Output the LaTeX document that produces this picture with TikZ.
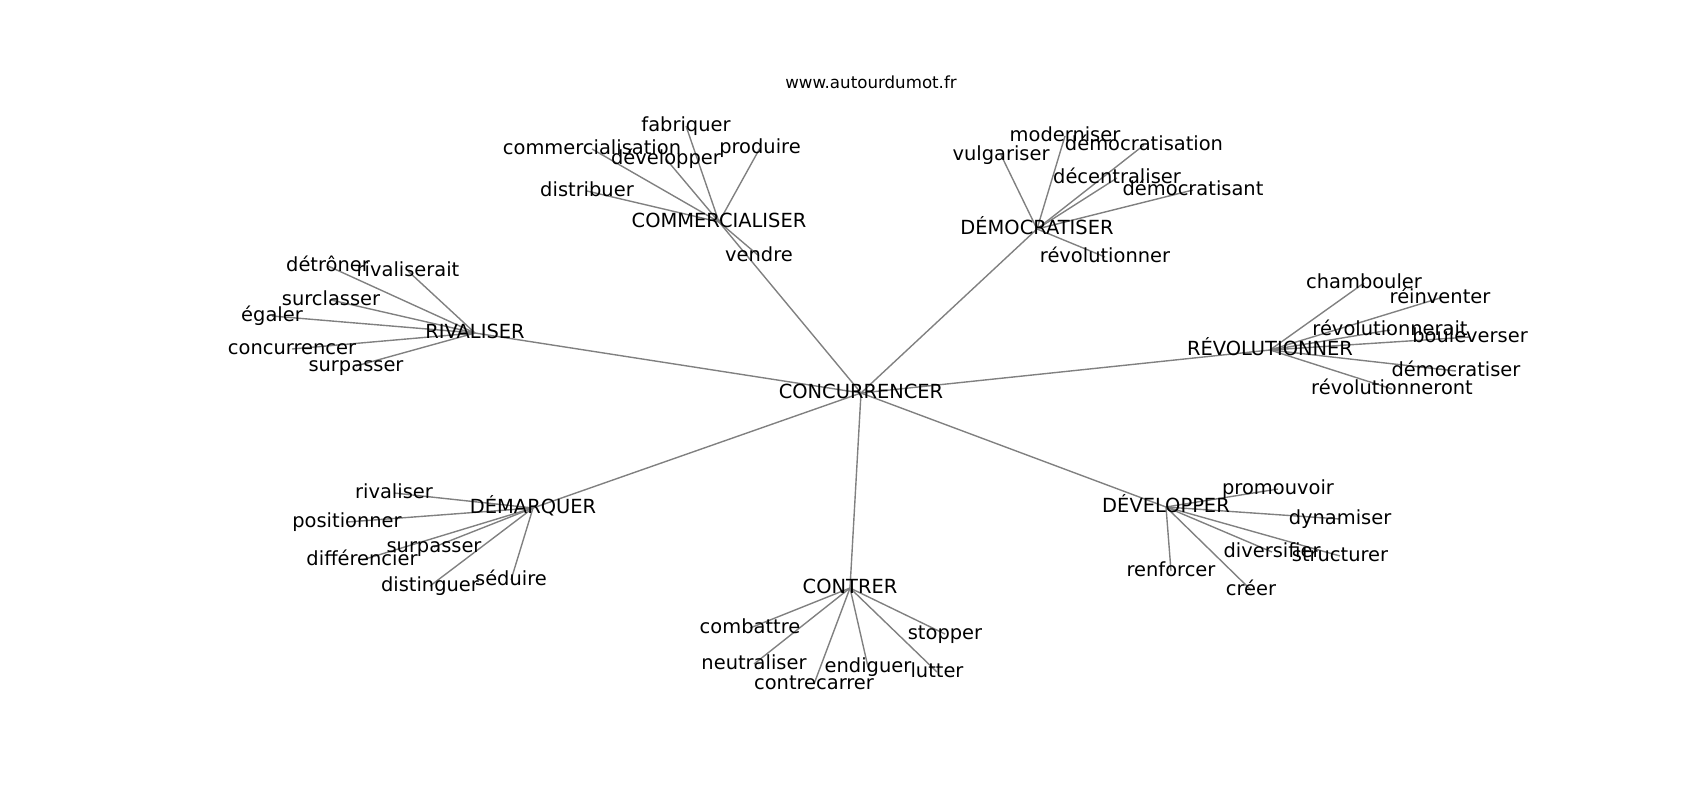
\documentclass[tikz,border=0pt]{standalone}
\usepackage{fontspec}
\setmainfont{DejaVu Sans}
\pgfdeclarelayer{background}
\pgfsetlayers{background,main}
\tikzset{
  lbl/.style={font=\fontsize{14}{16}\selectfont, inner sep=0pt, text height=0.95em, text depth=0.12em, anchor=center},
  edge/.style={draw=gray, line width=1pt}
}
\begin{document}
\begin{tikzpicture}[x=0.72pt,y=-0.72pt]
\useasboundingbox (0,0) rectangle (1700,800);
\node[font=\fontsize{12}{14}\selectfont, inner sep=0pt, anchor=base] (title) at (871,88.5) {www.autourdumot.fr};
% hubs
\node[lbl] (c) at (861,393) {CONCURRENCER};
\node[lbl] (cm) at (719,222) {COMMERCIALISER};
\node[lbl] (dm) at (1037,229) {DÉMOCRATISER};
\node[lbl] (rv) at (475,333) {RIVALISER};
\node[lbl] (rev) at (1270,350) {RÉVOLUTIONNER};
\node[lbl] (dq) at (533,508) {DÉMARQUER};
\node[lbl] (ct) at (850,588) {CONTRER};
\node[lbl] (dv) at (1166,507) {DÉVELOPPER};
% COMMERCIALISER leaves
\node[lbl] (cm1) at (686,126) {fabriquer};
\node[lbl] (cm2) at (592,149) {commercialisation};
\node[lbl] (cm3) at (666,159) {développer};
\node[lbl] (cm4) at (760,148) {produire};
\node[lbl] (cm5) at (587,191) {distribuer};
\node[lbl] (cm6) at (759,256) {vendre};
% DÉMOCRATISER leaves
\node[lbl] (dm1) at (1001,155) {vulgariser};
\node[lbl] (dm2) at (1065,136) {moderniser};
\node[lbl] (dm3) at (1144,145) {démocratisation};
\node[lbl] (dm4) at (1117,178) {décentraliser};
\node[lbl] (dm5) at (1193,190) {démocratisant};
\node[lbl] (dm6) at (1105,257) {révolutionner};
% RIVALISER leaves
\node[lbl] (rv1) at (328,266) {détrôner};
\node[lbl] (rv2) at (408,271) {rivaliserait};
\node[lbl] (rv3) at (331,300) {surclasser};
\node[lbl] (rv4) at (272,316) {égaler};
\node[lbl] (rv5) at (292,349) {concurrencer};
\node[lbl] (rv6) at (356,366) {surpasser};
% RÉVOLUTIONNER leaves
\node[lbl] (rev1) at (1364,283) {chambouler};
\node[lbl] (rev2) at (1440,298) {réinventer};
\node[lbl] (rev3) at (1390,330) {révolutionnerait};
\node[lbl] (rev4) at (1470,337) {bouleverser};
\node[lbl] (rev5) at (1456,371) {démocratiser};
\node[lbl] (rev6) at (1392,389) {révolutionneront};
% DÉMARQUER leaves
\node[lbl] (dq1) at (394,493) {rivaliser};
\node[lbl] (dq2) at (347,522) {positionner};
\node[lbl] (dq3) at (434,547) {surpasser};
\node[lbl] (dq4) at (362,560) {différencier};
\node[lbl] (dq5) at (430,586) {distinguer};
\node[lbl] (dq6) at (511,580) {séduire};
% CONTRER leaves
\node[lbl] (ct1) at (750,628) {combattre};
\node[lbl] (ct2) at (754,664) {neutraliser};
\node[lbl] (ct3) at (814,684) {contrecarrer};
\node[lbl] (ct4) at (868,667) {endiguer};
\node[lbl] (ct5) at (937,672) {lutter};
\node[lbl] (ct6) at (945,634) {stopper};
% DÉVELOPPER leaves
\node[lbl] (dv1) at (1278,489) {promouvoir};
\node[lbl] (dv2) at (1340,519) {dynamiser};
\node[lbl] (dv3) at (1272,552) {diversifier};
\node[lbl] (dv4) at (1340,556) {structurer};
\node[lbl] (dv5) at (1171,571) {renforcer};
\node[lbl] (dv6) at (1251,590) {créer};
\begin{pgfonlayer}{background}
\foreach \h in {cm,dm,rv,rev,dq,ct,dv}{
  \draw[edge] (c.center) -- (\h.center);
  \foreach \i in {1,...,6}{
    \draw[edge] (\h.center) -- (\h\i.center);
  }
}
\end{pgfonlayer}
\end{tikzpicture}
\end{document}
